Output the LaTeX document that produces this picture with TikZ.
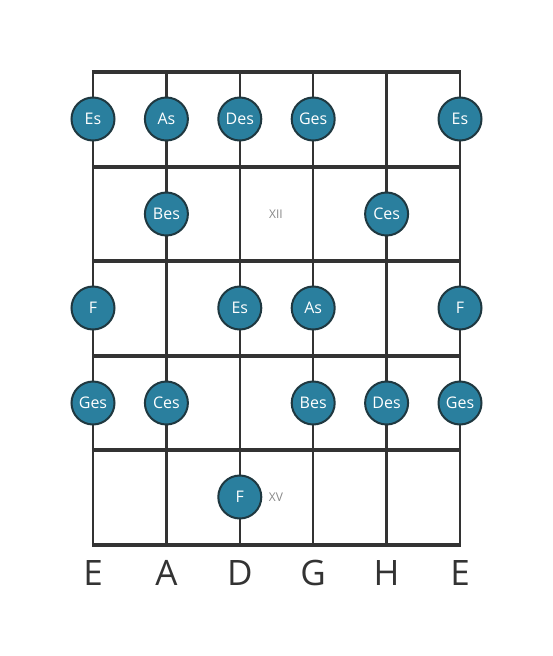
\documentclass[tikz,border=0pt]{standalone}
\usepackage{fontspec}
\setmainfont{Open Sans}
\definecolor{linec}{HTML}{333333}
\definecolor{notefill}{HTML}{2A7F9E}
\definecolor{notedraw}{HTML}{1F3840}
\definecolor{markc}{HTML}{888888}
\begin{document}
\begin{tikzpicture}[x=1pt,y=-1pt,
  fretline/.style={draw=linec,line width=4.5pt},
  stringline/.style={draw=linec,line width=2.5pt},
  note/.style={circle,fill=notefill,draw=notedraw,line width=2pt,minimum size=43pt,inner sep=0pt,text=white,font=\fontsize{16}{16}\selectfont},
  strlabel/.style={text=linec,font=\fontsize{35}{35}\selectfont},
  fretmark/.style={text=markc,font=\fontsize{12}{12}\selectfont}]
\useasboundingbox (0,0) rectangle (553,656);
% strings
\foreach \i/\x in {1/93,2/166.4,3/239.8,4/313.2,5/386.6,6/460}{
  \coordinate (st\i) at (\x,72);
  \coordinate (sb\i) at (\x,545);
  \draw[stringline] (st\i) -- (sb\i);
}
% frets
\foreach \j/\y in {0/72,1/167,2/261,3/356,4/450,5/545}{
  \coordinate (fl\j) at (91.75,\y);
  \coordinate (fr\j) at (461.25,\y);
  \draw[fretline] (fl\j) -- (fr\j);
}
% string labels
\foreach \i/\x/\t in {1/93/E,2/166.4/A,3/239.8/D,4/313.2/G,5/386.6/H,6/460/E}{
  \node[strlabel] (lab\i) at (\x,573) {\t};
}
% fret marks
\node[fretmark] (xii) at (276,214) {XII};
\node[fretmark] (xv) at (276,497) {XV};
% notes
\node[note] (n11) at (93,119) {Es};
\node[note] (n12) at (166.4,119) {As};
\node[note] (n13) at (239.8,119) {Des};
\node[note] (n14) at (313.2,119) {Ges};
\node[note] (n16) at (460,119) {Es};
\node[note] (n22) at (166.4,214) {Bes};
\node[note] (n25) at (386.6,214) {Ces};
\node[note] (n31) at (93,308) {F};
\node[note] (n33) at (239.8,308) {Es};
\node[note] (n34) at (313.2,308) {As};
\node[note] (n36) at (460,308) {F};
\node[note] (n41) at (93,403) {Ges};
\node[note] (n42) at (166.4,403) {Ces};
\node[note] (n44) at (313.2,403) {Bes};
\node[note] (n45) at (386.6,403) {Des};
\node[note] (n46) at (460,403) {Ges};
\node[note] (n53) at (239.8,497) {F};
\end{tikzpicture}
\end{document}
